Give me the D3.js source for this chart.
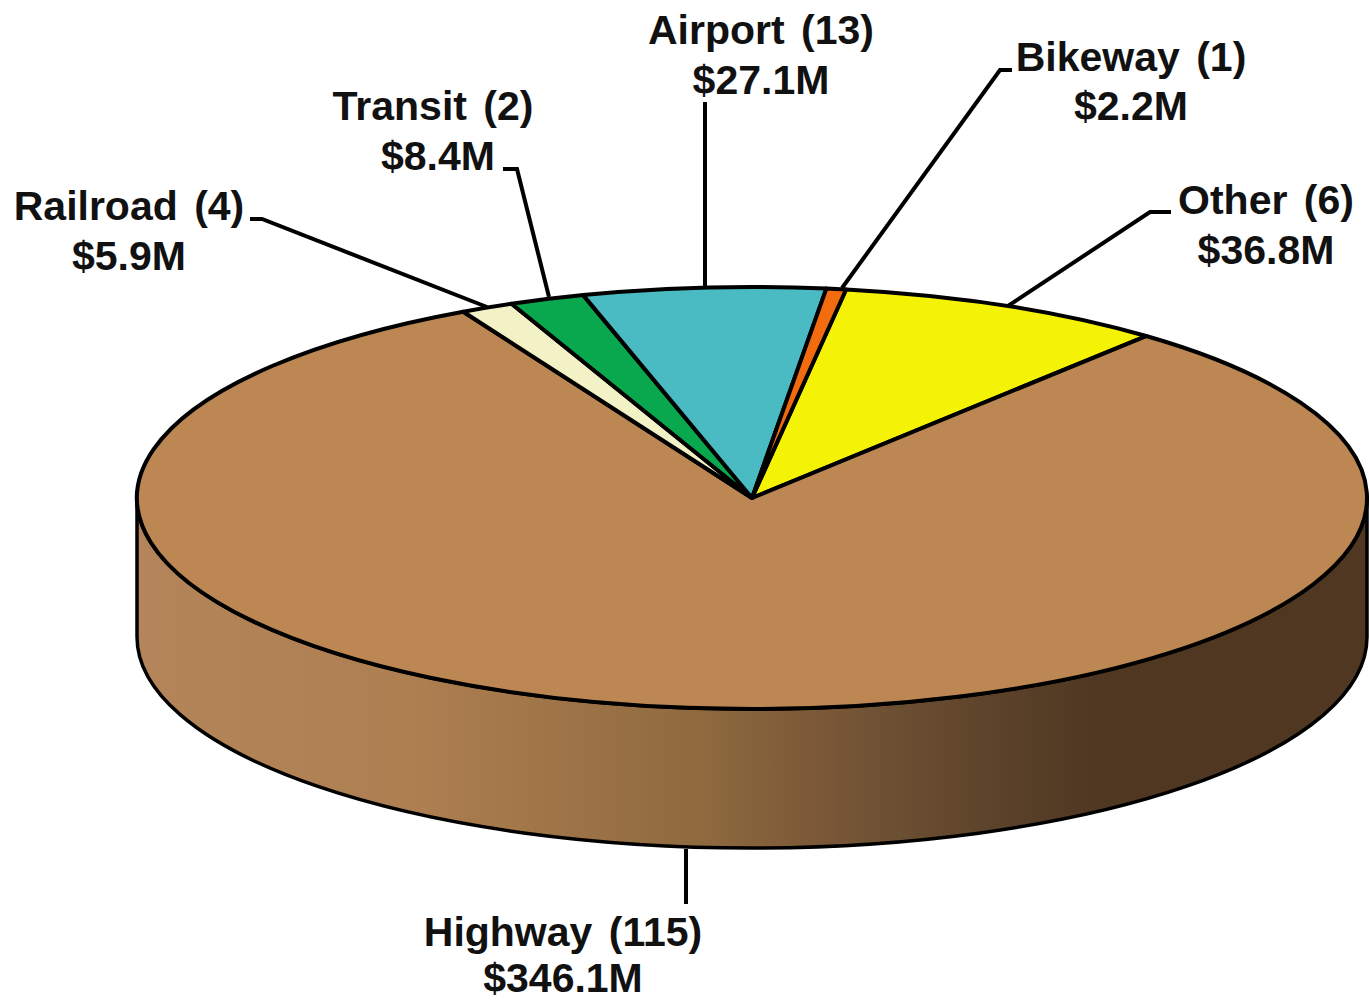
<!DOCTYPE html>
<html><head>
<meta charset="utf-8">
<script src="https://d3js.org/d3.v7.min.js"></script>
<style>
  html, body { margin: 0; background: #fff; }
  svg { display: block; }
  text { font-family: "Liberation Sans", sans-serif; font-weight: bold; font-size: 41px; fill: #111; text-anchor: middle; word-spacing: 5px; }
</style>
</head>
<body>
<svg id="pie" width="1369" height="1001"></svg>
<script>
  // clockwise from the left edge of Other
  const categories = ["Other", "Highway", "Railroad", "Transit", "Airport", "Bikeway"];
  const counts = [6, 115, 4, 2, 13, 1];
  const amounts = [36.8, 346.1, 5.9, 8.4, 27.1, 2.2];
  const colors = ["#f4f305", "#bc8753", "#f3f1c6", "#09a84e", "#4bbbc3", "#f26b0f"];

  const svg = d3.select("svg#pie");
  const cx = 752, cy = 498, rx = 615, ry = 211, depth = 139;
  const startAngle = 8.8 * Math.PI / 180;

  const pie = d3.pie().sort(null).startAngle(startAngle).endAngle(startAngle + 2 * Math.PI);
  const arcs = pie(amounts);

  // rim side, dark toward the right
  const grad = svg.append("defs").append("linearGradient").attr("id", "side");
  [[0, "#b4855a"], [0.22, "#ae7f51"], [0.46, "#8f6a3f"], [0.54, "#7e5a38"], [0.62, "#6b4f33"], [0.70, "#5c4229"], [0.78, "#4f3722"], [1, "#4f3722"]]
    .forEach(s => grad.append("stop").attr("offset", s[0]).attr("stop-color", s[1]));

  svg.append("path")
    .attr("d", `M${cx - rx},${cy} V${cy + depth} A${rx},${ry} 0 0 0 ${cx + rx},${cy + depth} V${cy} A${rx},${ry} 0 0 1 ${cx - rx},${cy} Z`)
    .attr("fill", "url(#side)")
    .attr("stroke", "#000")
    .attr("stroke-width", 3.5);

  // flat pie squashed into an ellipse
  const arc = d3.arc().innerRadius(0).outerRadius(rx);
  svg.append("g")
    .attr("transform", `translate(${cx},${cy}) scale(1,${ry / rx})`)
    .selectAll("path")
    .data(arcs)
    .join("path")
    .attr("d", arc)
    .attr("fill", (d, i) => colors[i])
    .attr("stroke", "#000")
    .attr("stroke-width", 4)
    .attr("stroke-linejoin", "round")
    .attr("vector-effect", "non-scaling-stroke");

  // leader lines and label spots
  const leaders = {
    Other: [[1171, 212], [1150, 212], [1008, 306]],
    Highway: [[686, 849], [686, 904]],
    Railroad: [[250, 219], [262, 219], [487, 307]],
    Transit: [[503, 169], [517, 169], [549, 297]],
    Airport: [[705, 102], [705, 288]],
    Bikeway: [[1012, 70], [1000, 70], [842, 288]]
  };
  const labelSpots = {
    Other: [1266, 214, 264],
    Highway: [563, 946, 992],
    Railroad: [129, 220, 270],
    Transit: [433, 120, 170],
    Airport: [761, 44, 94],
    Bikeway: [1131, 71, 120]
  };
  const line = d3.line();

  svg.append("g").selectAll("path")
    .data(categories)
    .join("path")
    .attr("d", d => line(leaders[d]))
    .attr("fill", "none")
    .attr("stroke", "#000")
    .attr("stroke-width", 4);

  let labels = svg.append("g").selectAll("g")
    .data(categories)
    .join("g");

  labels.append("text")
    .attr("x", d => labelSpots[d][0])
    .attr("y", d => labelSpots[d][1])
    .text((d, i) => `${d} (${counts[i]})`);

  labels.append("text")
    .attr("x", d => labelSpots[d][0] + (d === "Transit" ? 5 : 0))
    .attr("y", d => labelSpots[d][2])
    .text((d, i) => `$${amounts[i]}M`);
</script>
</body>
</html>
